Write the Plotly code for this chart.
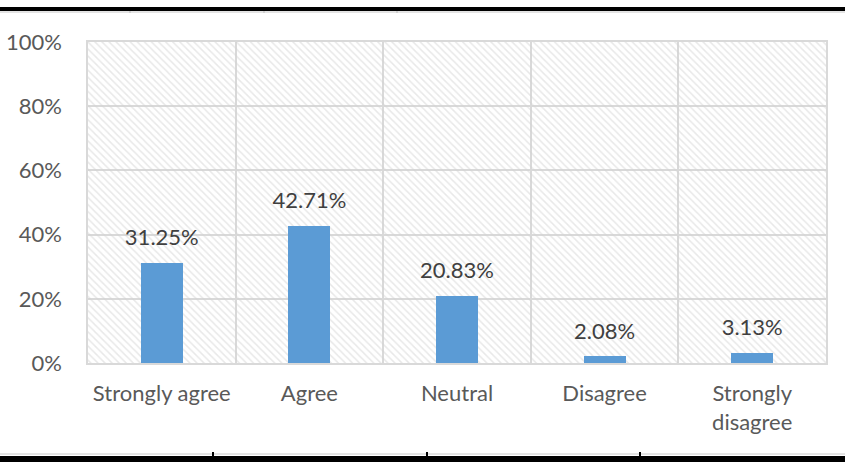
import plotly.graph_objects as go

categories = ["Strongly agree", "Agree", "Neutral", "Disagree", "Strongly<br>disagree"]
values = [31.25, 42.71, 20.83, 2.08, 3.13]
y_ticks = [0, 20, 40, 60, 80, 100]
y_labels = ["0%", "20%", "40%", "60%", "80%", "100%"]

xpos = list(range(len(categories)))
FONT = "Lato, 'Open Sans', sans-serif"
TXT = "#595959"
GRID = "#d9d9d9"
FS = 22

fig = go.Figure()
# hatched background cells (transparent base so gridlines show)
fig.add_trace(go.Bar(
    x=xpos, y=[100] * len(xpos), width=1,
    marker=dict(color="rgba(0,0,0,0)", line=dict(width=0),
                pattern=dict(shape="\\", fgcolor="#d2d2d2", bgcolor="rgba(0,0,0,0)", size=5, solidity=0.3)),
    hoverinfo="skip", showlegend=False,
))
fig.add_trace(go.Bar(
    x=xpos, y=values, width=0.285,
    marker=dict(color="#5B9BD5", line=dict(width=0)),
    showlegend=False,
))
# value labels
fig.add_trace(go.Scatter(
    x=xpos, y=values, mode="markers+text",
    marker=dict(size=18, opacity=0),
    text=[f"{v:.2f}%" for v in values], textposition="top center",
    textfont=dict(family=FONT, size=FS, color="#404040"),
    cliponaxis=False, hoverinfo="skip", showlegend=False,
))

fig.update_layout(
    width=845, height=462,
    margin=dict(l=88, r=19, t=42, b=99, autoexpand=False),
    paper_bgcolor="white", plot_bgcolor="white",
    barmode="overlay", bargap=0,
    font=dict(family=FONT, size=FS, color=TXT),
)
fig.update_xaxes(
    range=[-0.5, 4.5], tickvals=xpos, ticktext=categories, automargin=False,
    showgrid=False, zeroline=False, showline=True, linecolor=GRID, linewidth=1.5, mirror=True,
    ticks="", ticklabelstandoff=10,
    minor=dict(tickvals=[0.5, 1.5, 2.5, 3.5], showgrid=True, gridcolor=GRID, gridwidth=1.5),
    tickfont=dict(family=FONT, size=FS, color=TXT),
)
fig.update_yaxes(
    range=[0, 100], tickvals=y_ticks, ticktext=y_labels, automargin=False,
    showgrid=True, gridcolor=GRID, gridwidth=1.5, zeroline=False,
    showline=True, linecolor=GRID, linewidth=1.5, mirror=True, ticks="", ticklabelstandoff=20,
    tickfont=dict(family=FONT, size=FS, color=TXT),
)

# document table borders
def px_x(p):
    return (p - 88) / 738.0

def px_y(p):
    return (363 - p) / 321.0

shapes = [
    dict(type="rect", xref="paper", yref="paper", x0=px_x(0), x1=px_x(845), y0=px_y(7), y1=px_y(11),
         fillcolor="black", line=dict(width=0), layer="above"),
    dict(type="line", xref="paper", yref="paper", x0=px_x(0), x1=px_x(845), y0=px_y(12), y1=px_y(12),
         line=dict(color="#c8c8c8", width=1)),
    dict(type="line", xref="paper", yref="paper", x0=px_x(0), x1=px_x(845), y0=px_y(454), y1=px_y(454),
         line=dict(color="#c8c8c8", width=1)),
    dict(type="rect", xref="paper", yref="paper", x0=px_x(0), x1=px_x(845), y0=px_y(456), y1=px_y(463),
         fillcolor="black", line=dict(width=0), layer="above"),
]
for tx in [213, 427, 640]:
    shapes.append(dict(type="line", xref="paper", yref="paper", x0=px_x(tx), x1=px_x(tx),
                       y0=px_y(452), y1=px_y(456), line=dict(color="black", width=2)))
for tx in [130, 264, 397]:
    shapes.append(dict(type="line", xref="paper", yref="paper", x0=px_x(tx), x1=px_x(tx),
                       y0=px_y(11), y1=px_y(13), line=dict(color="#bbbbbb", width=1)))
fig.update_layout(shapes=shapes)

fig.write_html("out.html", config={"displayModeBar": False},
               post_script="document.body.style.margin='0';document.body.style.overflow='hidden';")
